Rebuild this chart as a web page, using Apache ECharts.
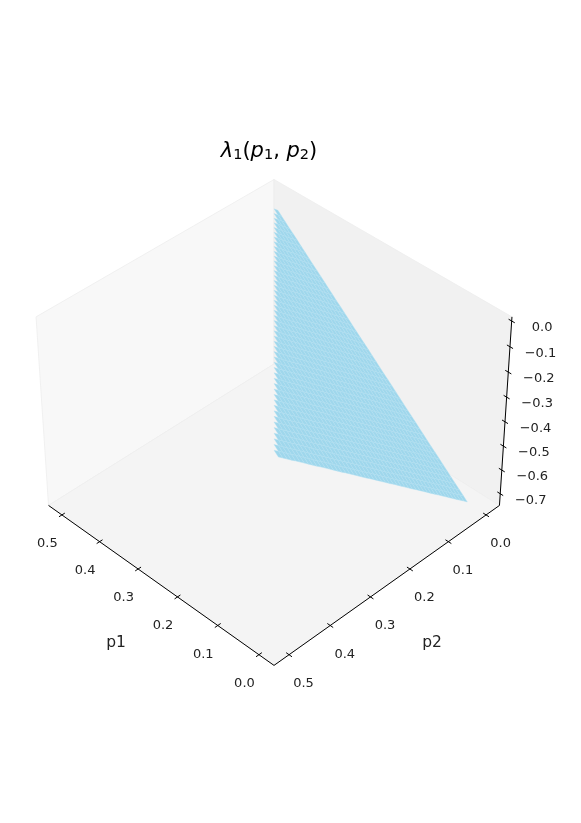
<!DOCTYPE html>
<html>
<head>
<meta charset="utf-8">
<style>html,body{margin:0;padding:0;background:#fff}#main{width:581px;height:823px}</style>
<script src="https://cdn.jsdelivr.net/npm/echarts@6/dist/echarts.min.js"></script>
</head>
<body>
<div id="main"></div>
<script>
// values
var p1Values = [0.005,0.015,0.025,0.035,0.045,0.055,0.065,0.075,0.085,0.095,0.105,0.115,0.125,0.135,0.145,0.155,0.165,0.175,0.185,0.195,0.205,0.215,0.225,0.235,0.245,0.255,0.265,0.275,0.285,0.295,0.305,0.315,0.325,0.335,0.345,0.355,0.365,0.375,0.385,0.395,0.405,0.415,0.425,0.435,0.445,0.455,0.465,0.475,0.485,0.495];
var p2Values = p1Values;
// lambda by mesh index i+j, it only moves with p1+p2
var lambdaBySum = [-0.735,-0.720,-0.705,-0.691,-0.676,-0.661,-0.646,-0.631,-0.616,-0.602,-0.587,-0.572,-0.557,-0.542,-0.527,-0.513,-0.498,-0.483,-0.468,-0.453,-0.438,-0.424,-0.409,-0.394,-0.379,-0.364,-0.349,-0.335,-0.320,-0.305,-0.290,-0.275,-0.260,-0.246,-0.231,-0.216,-0.201,-0.186,-0.171,-0.157,-0.142,-0.127,-0.112,-0.097,-0.082,-0.068,-0.053,-0.038,-0.023,-0.008];
var p1Ticks = [0,0.1,0.2,0.3,0.4,0.5];
var p2Ticks = [0,0.1,0.2,0.3,0.4,0.5];
var zTicks = [0,-0.1,-0.2,-0.3,-0.4,-0.5,-0.6,-0.7];

// axis limits of the 3d box
var pMin = -0.036, pMax = 0.536, zMin = -0.75, zMax = 0.016;

// camera
var elev = 39.4 * Math.PI / 180, dist = 10, R = 0.815, H = 0.425;
var sx = 2841, sy = 2869, cx = 274, cy = 413.7;

function project(p1, p2, z) {
    var a = (p1 - pMin) / (pMax - pMin) * 2 - 1;
    var b = (p2 - pMin) / (pMax - pMin) * 2 - 1;
    var c = ((z - zMin) / (zMax - zMin) * 2 - 1) * H;
    var h = -(a + b) / 2 * R;
    var w = (b - a) / 2 * R;
    var f = w * Math.cos(elev) + c * Math.sin(elev);
    var v = -w * Math.sin(elev) + c * Math.cos(elev);
    return [h / (dist - f), v / (dist - f)];
}

var panes = [
    {name: 'left', color: '#f8f8f8', pts: [[pMax,pMin,zMin],[pMax,pMax,zMin],[pMax,pMax,zMax],[pMax,pMin,zMax]]},
    {name: 'right', color: '#f1f1f1', pts: [[pMin,pMin,zMin],[pMax,pMin,zMin],[pMax,pMin,zMax],[pMin,pMin,zMax]]},
    {name: 'floor', color: '#f4f4f4', pts: [[pMin,pMin,zMin],[pMax,pMin,zMin],[pMax,pMax,zMin],[pMin,pMax,zMin]]}
];

// mesh cells of the triangle under p1+p2=0.5, back ones first
var cells = [];
for (var s = p1Values.length - 3; s >= 0; s--) {
    for (var i = 0; i <= s; i++) {
        var j = s - i;
        cells.push([i, j]);
    }
}
cells.sort(function (m, n) { return (m[1] - m[0]) - (n[1] - n[0]); });

var segs = [];
segs.push([[pMax,pMax,zMin],[pMin,pMax,zMin]]);
segs.push([[pMin,pMax,zMin],[pMin,pMin,zMin]]);
segs.push([[pMin,pMin,zMin],[pMin,pMin,zMax]]);
var tickLen = 0.007;
p1Ticks.forEach(function (t) { segs.push([[t,pMax-tickLen,zMin],[t,pMax+tickLen,zMin]]); });
p2Ticks.forEach(function (t) { segs.push([[pMin-tickLen,t,zMin],[pMin+tickLen,t,zMin]]); });
zTicks.forEach(function (t) { segs.push([[pMin-tickLen,pMin,t],[pMin+tickLen,pMin,t]]); });

var labels = [];
p1Ticks.forEach(function (t) { labels.push({pos: [t,pMax,zMin], text: t.toFixed(1), dx: -14.5, dy: 29}); });
p2Ticks.forEach(function (t) { labels.push({pos: [pMin,t,zMin], text: t.toFixed(1), dx: 14.5, dy: 29}); });
zTicks.forEach(function (t) {
    labels.push({pos: [pMin,pMin,t], text: (t < 0 ? '\u2212' : '') + Math.abs(t).toFixed(1), dx: 30.5, dy: 6.5});
});

function coord(api, pt) {
    return api.coord(project(pt[0], pt[1], pt[2]));
}

var myChart = echarts.init(document.getElementById('main'), null, {renderer: 'canvas'});
var option = {
    animation: false,
    backgroundColor: '#fff',
    title: {
        text: '{i|\u03bb}{s|1}{n|(}{i|p}{s|1}{n|, }{i|p}{s|2}{n|)}',
        left: 264,
        top: 136,
        textAlign: 'center',
        textStyle: {
            fontWeight: 'normal',
            rich: {
                i: {fontFamily: 'DejaVu Sans', fontStyle: 'italic', fontWeight: 'normal', fontSize: 21, color: '#000'},
                n: {fontFamily: 'DejaVu Sans', fontWeight: 'normal', fontSize: 21, color: '#000'},
                s: {fontFamily: 'DejaVu Sans', fontWeight: 'normal', fontSize: 14.5, color: '#000', padding: [7, 0, 0, 0]}
            }
        }
    },
    grid: {left: 0, right: 0, top: 0, bottom: 0},
    xAxis: {type: 'value', min: -cx / sx, max: (581 - cx) / sx, show: false},
    yAxis: {type: 'value', min: (cy - 823) / sy, max: cy / sy, show: false},
    series: [
        {
            type: 'custom',
            silent: true,
            data: panes.map(function (d, idx) { return [idx]; }),
            renderItem: function (params, api) {
                var pane = panes[params.dataIndex];
                return {
                    type: 'polygon',
                    shape: {points: pane.pts.map(function (pt) { return coord(api, pt); })},
                    style: {fill: pane.color, stroke: '#ededed', lineWidth: 0.8}
                };
            }
        },
        {
            type: 'custom',
            silent: true,
            z: 3,
            data: cells,
            renderItem: function (params, api) {
                var c = cells[params.dataIndex];
                var i = c[0], j = c[1];
                var s = i + j;
                return {
                    type: 'polygon',
                    shape: {points: [
                        coord(api, [p1Values[i], p2Values[j], lambdaBySum[s]]),
                        coord(api, [p1Values[i + 1], p2Values[j], lambdaBySum[s + 1]]),
                        coord(api, [p1Values[i + 1], p2Values[j + 1], lambdaBySum[s + 2]]),
                        coord(api, [p1Values[i], p2Values[j + 1], lambdaBySum[s + 1]])
                    ]},
                    style: {fill: '#9fd7ec', stroke: '#b4e1f2', lineWidth: 0.4}
                };
            }
        },
        {
            type: 'custom',
            silent: true,
            z: 4,
            data: segs.map(function (d, idx) { return [idx]; }),
            renderItem: function (params, api) {
                var seg = segs[params.dataIndex];
                var a = coord(api, seg[0]), b = coord(api, seg[1]);
                return {
                    type: 'line',
                    shape: {x1: a[0], y1: a[1], x2: b[0], y2: b[1]},
                    style: {stroke: '#000', lineWidth: 1}
                };
            }
        },
        {
            type: 'custom',
            silent: true,
            z: 5,
            data: labels.map(function (d, idx) { return [idx]; }),
            renderItem: function (params, api) {
                var l = labels[params.dataIndex];
                var a = coord(api, l.pos);
                return {
                    type: 'text',
                    x: a[0] + l.dx,
                    y: a[1] + l.dy,
                    style: {text: l.text, fontFamily: 'DejaVu Sans', fontSize: 13, fill: '#222', align: 'center', verticalAlign: 'middle'}
                };
            }
        }
    ],
    graphic: [
        {type: 'text', x: 116, y: 643, z: 10, style: {text: 'p1', fontFamily: 'DejaVu Sans', fontSize: 15.5, fill: '#222', align: 'center', verticalAlign: 'middle'}},
        {type: 'text', x: 432, y: 643, z: 10, style: {text: 'p2', fontFamily: 'DejaVu Sans', fontSize: 15.5, fill: '#222', align: 'center', verticalAlign: 'middle'}}
    ]
};
myChart.setOption(option);
</script>
</body>
</html>
